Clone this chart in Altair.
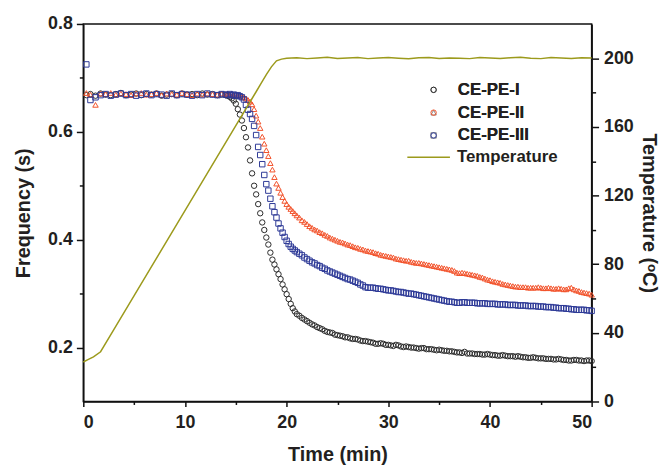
import altair as alt
import pandas as pd

# ---- sample times (min) shared by the three frequency series ----
TIME = [0.3, 0.7, 1.2, 1.7, 2.2, 2.7, 3.2, 3.7, 4.2, 4.7, 5.2, 5.7, 6.2, 6.7,
        7.2, 7.7, 8.2, 8.7, 9.2, 9.7, 10.2, 10.7, 11.2, 11.7, 12.2, 12.7, 13.2, 13.6,
        14.0, 14.2, 14.4, 14.6, 14.8, 15.0, 15.2, 15.4, 15.6, 15.8, 16.0, 16.2,
        16.4, 16.6, 16.8, 17.0, 17.2, 17.4, 17.6, 17.8, 18.0, 18.2, 18.4, 18.6,
        18.8, 19.0, 19.2, 19.4, 19.6, 19.8, 20.0, 20.2, 20.4, 20.6, 20.8, 21.0,
        21.25, 21.5, 21.75, 22.0, 22.25, 22.5, 22.75, 23.0, 23.25, 23.5, 23.75, 24.0,
        24.25, 24.5, 24.75, 25.0, 25.25, 25.5, 25.75, 26.0, 26.25, 26.5, 26.75, 27.0,
        27.25, 27.5, 27.75, 28.0, 28.25, 28.5, 28.75, 29.0, 29.25, 29.5, 29.75, 30.0,
        30.25, 30.5, 30.75, 31.0, 31.25, 31.5, 31.75, 32.0, 32.25, 32.5, 32.75, 33.0,
        33.25, 33.5, 33.75, 34.0, 34.25, 34.5, 34.75, 35.0, 35.25, 35.5, 35.75, 36.0,
        36.25, 36.5, 36.75, 37.0, 37.25, 37.5, 37.75, 38.0, 38.25, 38.5, 38.75, 39.0,
        39.25, 39.5, 39.75, 40.0, 40.25, 40.5, 40.75, 41.0, 41.25, 41.5, 41.75, 42.0,
        42.25, 42.5, 42.75, 43.0, 43.25, 43.5, 43.75, 44.0, 44.25, 44.5, 44.75, 45.0,
        45.25, 45.5, 45.75, 46.0, 46.25, 46.5, 46.75, 47.0, 47.25, 47.5, 47.75, 48.0,
        48.25, 48.5, 48.75, 49.0, 49.25, 49.5, 49.75, 50.0]

FREQ_I = [0.668, 0.670, 0.667, 0.671, 0.669, 0.668, 0.670, 0.672, 0.668, 0.669, 0.671, 0.668, 0.670, 0.669,
          0.671, 0.667, 0.669, 0.670, 0.668, 0.671, 0.669, 0.670, 0.668, 0.671, 0.669, 0.670, 0.668, 0.669,
          0.668, 0.667, 0.665, 0.662, 0.658, 0.652, 0.642, 0.632, 0.621, 0.607, 0.590, 0.571,
          0.547, 0.523, 0.500, 0.484, 0.466, 0.449, 0.432, 0.418, 0.404, 0.391, 0.376, 0.363,
          0.354, 0.345, 0.336, 0.327, 0.317, 0.308, 0.299, 0.290, 0.281, 0.273, 0.267, 0.262,
          0.259, 0.255, 0.252, 0.249, 0.246, 0.243, 0.241, 0.238, 0.236, 0.234, 0.231, 0.229,
          0.228, 0.227, 0.224, 0.223, 0.222, 0.221, 0.219, 0.219, 0.217, 0.216, 0.216, 0.215,
          0.213, 0.212, 0.212, 0.211, 0.210, 0.209, 0.207, 0.207, 0.208, 0.207, 0.205, 0.205,
          0.204, 0.203, 0.205, 0.204, 0.202, 0.201, 0.202, 0.201, 0.200, 0.200, 0.199, 0.198,
          0.199, 0.199, 0.197, 0.197, 0.197, 0.196, 0.195, 0.196, 0.195, 0.194, 0.194, 0.193,
          0.193, 0.192, 0.191, 0.191, 0.190, 0.192, 0.189, 0.189, 0.189, 0.188, 0.188, 0.188,
          0.187, 0.187, 0.188, 0.187, 0.186, 0.186, 0.185, 0.185, 0.186, 0.185, 0.184, 0.184,
          0.184, 0.183, 0.184, 0.183, 0.182, 0.182, 0.181, 0.181, 0.182, 0.181, 0.180, 0.180,
          0.180, 0.179, 0.179, 0.179, 0.178, 0.178, 0.179, 0.178, 0.177, 0.177, 0.176, 0.176,
          0.177, 0.177, 0.176, 0.176, 0.175, 0.176, 0.176, 0.175]

FREQ_II = [0.672, 0.669, 0.650, 0.671, 0.670, 0.672, 0.669, 0.671, 0.670, 0.668, 0.671, 0.672, 0.669, 0.670,
           0.672, 0.668, 0.671, 0.670, 0.669, 0.672, 0.670, 0.668, 0.671, 0.669, 0.671, 0.670, 0.669, 0.671,
           0.670, 0.671, 0.669, 0.670, 0.668, 0.669, 0.667, 0.667, 0.665, 0.664, 0.662, 0.659,
           0.656, 0.651, 0.642, 0.630, 0.619, 0.607, 0.591, 0.578, 0.566, 0.555, 0.542, 0.530,
           0.516, 0.504, 0.496, 0.487, 0.479, 0.472, 0.466, 0.461, 0.457, 0.453, 0.449, 0.445,
           0.441, 0.436, 0.433, 0.429, 0.425, 0.422, 0.419, 0.417, 0.414, 0.412, 0.409, 0.407,
           0.404, 0.402, 0.400, 0.398, 0.396, 0.395, 0.393, 0.391, 0.390, 0.388, 0.386, 0.385,
           0.383, 0.382, 0.380, 0.379, 0.378, 0.377, 0.375, 0.374, 0.372, 0.371, 0.370, 0.369,
           0.368, 0.367, 0.365, 0.364, 0.363, 0.362, 0.361, 0.361, 0.359, 0.358, 0.357, 0.357,
           0.356, 0.355, 0.354, 0.353, 0.352, 0.351, 0.350, 0.349, 0.348, 0.347, 0.346, 0.345,
           0.344, 0.342, 0.339, 0.338, 0.339, 0.338, 0.337, 0.336, 0.335, 0.334, 0.333, 0.331,
           0.330, 0.328, 0.326, 0.325, 0.323, 0.322, 0.321, 0.320, 0.318, 0.317, 0.316, 0.315,
           0.314, 0.313, 0.313, 0.312, 0.312, 0.312, 0.311, 0.311, 0.311, 0.311, 0.312, 0.311,
           0.310, 0.310, 0.311, 0.310, 0.309, 0.309, 0.310, 0.309, 0.308, 0.308, 0.310, 0.311,
           0.308, 0.306, 0.305, 0.303, 0.302, 0.301, 0.300, 0.298]

FREQ_III = [0.725, 0.659, 0.664, 0.668, 0.670, 0.667, 0.669, 0.671, 0.668, 0.670, 0.667, 0.669, 0.671, 0.668,
            0.670, 0.669, 0.667, 0.671, 0.668, 0.670, 0.669, 0.667, 0.670, 0.668, 0.671, 0.669, 0.668, 0.670,
            0.669, 0.668, 0.670, 0.668, 0.669, 0.667, 0.668, 0.666, 0.664, 0.660, 0.650, 0.641,
            0.633, 0.624, 0.611, 0.594, 0.572, 0.557, 0.540, 0.520, 0.503, 0.491, 0.476, 0.462,
            0.451, 0.441, 0.430, 0.421, 0.413, 0.405, 0.398, 0.392, 0.387, 0.383, 0.380, 0.377,
            0.374, 0.371, 0.367, 0.364, 0.361, 0.358, 0.356, 0.353, 0.351, 0.348, 0.346, 0.343,
            0.341, 0.339, 0.337, 0.335, 0.333, 0.331, 0.329, 0.327, 0.326, 0.324, 0.322, 0.320,
            0.317, 0.315, 0.312, 0.311, 0.311, 0.311, 0.310, 0.309, 0.309, 0.308, 0.307, 0.306,
            0.306, 0.305, 0.304, 0.303, 0.303, 0.302, 0.301, 0.300, 0.300, 0.299, 0.298, 0.297,
            0.296, 0.295, 0.294, 0.293, 0.292, 0.291, 0.290, 0.289, 0.288, 0.287, 0.286, 0.285,
            0.285, 0.284, 0.283, 0.283, 0.284, 0.284, 0.283, 0.283, 0.283, 0.283, 0.282, 0.282,
            0.282, 0.282, 0.281, 0.281, 0.281, 0.281, 0.280, 0.280, 0.280, 0.280, 0.279, 0.279,
            0.279, 0.279, 0.278, 0.278, 0.278, 0.278, 0.277, 0.277, 0.277, 0.277, 0.276, 0.276,
            0.276, 0.275, 0.275, 0.275, 0.274, 0.274, 0.273, 0.273, 0.273, 0.272, 0.272, 0.271,
            0.271, 0.270, 0.270, 0.270, 0.270, 0.269, 0.269, 0.268]

SERIES = ["CE-PE-I", "CE-PE-II", "CE-PE-III"]
SERIES_COLORS = ["#2a2a2a", "#f2522b", "#2e3a97"]
SERIES_SHAPES = ["circle", "triangle-up", "square"]

TEMP_TIME = [0, 0.5, 1.0, 1.7, 3, 5, 7, 9, 11, 13, 15, 17, 17.5, 18, 18.5, 19, 19.5, 20,
             21, 22, 23, 24, 25, 26, 27, 28, 29, 30, 31, 32, 33, 34, 35, 36, 37, 38, 39, 40,
             41, 42, 43, 44, 45, 46, 47, 48, 49, 50]
TEMP_VAL = [23, 24.5, 26, 29, 41.9, 61.7, 81.5, 101.3, 121.1, 140.9, 160.7, 180.5, 185.5, 190.5,
            195, 198.5, 199.5, 200,
            200.3, 199.8, 200.2, 200.6, 199.9, 200.2, 200.5, 199.8, 200.1, 200.4,
            200.0, 199.7, 200.3, 200.5, 199.9, 200.2, 200.0, 199.8, 200.4, 200.1,
            199.9, 200.3, 200.6, 200.0, 199.8, 200.4, 200.2, 199.9, 200.3, 200.1]
TEMP_COLOR = "#9c9a1c"

X_MAJOR = [0, 10, 20, 30, 40, 50]
X_MINOR = [5, 15, 25, 35, 45]
F_MAJOR = [0.2, 0.4, 0.6, 0.8]
F_MINOR = [0.3, 0.5, 0.7]
T_MAJOR = [0, 40, 80, 120, 160, 200]
T_MINOR = [20, 60, 100, 140, 180]

rows = []
for name, vals in zip(SERIES, [FREQ_I, FREQ_II, FREQ_III]):
    for t, v in zip(TIME, vals):
        rows.append({"time": t, "freq": v, "series": name})
pts = pd.DataFrame(rows)
temp = pd.DataFrame({"time": TEMP_TIME, "temp": TEMP_VAL, "series": "Temperature"})

FONT = "Liberation Sans"
xscale = alt.Scale(domain=[0, 50], nice=False)
fscale = alt.Scale(domain=[0.1, 0.8], nice=False, zero=False)
tscale = alt.Scale(domain=[0, 220], nice=False, zero=False)

pt_legend = alt.Legend(title=None, orient="none", legendX=345, legendY=58,
                       symbolSize=30, symbolStrokeWidth=1, labelOffset=16,
                       rowPadding=5, padding=0, symbolFillColor="transparent")

points = alt.Chart(pts).mark_point(filled=False, size=30, strokeWidth=1, opacity=1).encode(
    x=alt.X("time:Q", scale=xscale,
            axis=alt.Axis(orient="bottom", values=X_MAJOR, title="Time (min)", tickSize=5,
                          labelPadding=7, titlePadding=14, format="d")),
    y=alt.Y("freq:Q", scale=fscale,
            axis=alt.Axis(orient="left", values=F_MAJOR, title="Frequency (s)", tickSize=7,
                          labelPadding=4, titlePadding=14, format=".1f")),
    color=alt.Color("series:N", scale=alt.Scale(domain=SERIES, range=SERIES_COLORS),
                    legend=pt_legend),
    shape=alt.Shape("series:N", scale=alt.Scale(domain=SERIES, range=SERIES_SHAPES),
                    legend=pt_legend),
    order=alt.Order("series:N"),
)

line = alt.Chart(temp).mark_line(strokeWidth=1.5).encode(
    x=alt.X("time:Q", scale=xscale, axis=None),
    y=alt.Y("temp:Q", scale=tscale,
            axis=alt.Axis(orient="right", values=T_MAJOR, title="Temperature (ᵒC)", tickSize=7,
                          labelPadding=5, titlePadding=5, titleAngle=90)),
    color=alt.Color("series:N", scale=alt.Scale(domain=["Temperature"], range=[TEMP_COLOR]),
                    legend=alt.Legend(title=None, orient="none", legendX=326, legendY=112,
                                      symbolType="stroke", symbolSize=1849, symbolStrokeWidth=1.5,
                                      labelOffset=6, padding=0)),
)

minor_left = alt.Chart(pts).mark_point(opacity=0).encode(
    x=alt.X("time:Q", scale=xscale,
            axis=alt.Axis(orient="bottom", values=X_MINOR, title=None, labels=False,
                          domain=False, tickSize=3)),
    y=alt.Y("freq:Q", scale=fscale,
            axis=alt.Axis(orient="left", values=F_MINOR, title=None, labels=False,
                          domain=False, tickSize=4)),
)

minor_right = alt.Chart(temp).mark_line(opacity=0).encode(
    x=alt.X("time:Q", scale=xscale, axis=None),
    y=alt.Y("temp:Q", scale=tscale,
            axis=alt.Axis(orient="right", values=T_MINOR, title=None, labels=False,
                          domain=False, tickSize=4)),
)

chart = alt.layer(points, line, minor_left, minor_right).resolve_scale(
    y="independent", color="independent"
).resolve_axis(
    x="independent", y="independent"
).properties(
    width=513, height=381,
    padding={"left": 5, "top": 5, "right": 3, "bottom": 0},
).configure_view(
    stroke="#111111", strokeWidth=1.5
).configure_axis(
    grid=False,
    labelFont=FONT, labelFontWeight="bold", labelFontSize=18, labelColor="#231f20",
    titleFont=FONT, titleFontWeight="bold", titleFontSize=20, titleColor="#231f20",
    domainColor="#111111", domainWidth=1.5, tickColor="#111111", tickWidth=1.5,
).configure_legend(
    labelFont=FONT, labelFontWeight="bold", labelFontSize=17, labelColor="#231f20",
)

chart.save("out.html", embed_options={"renderer": "svg", "actions": False})
